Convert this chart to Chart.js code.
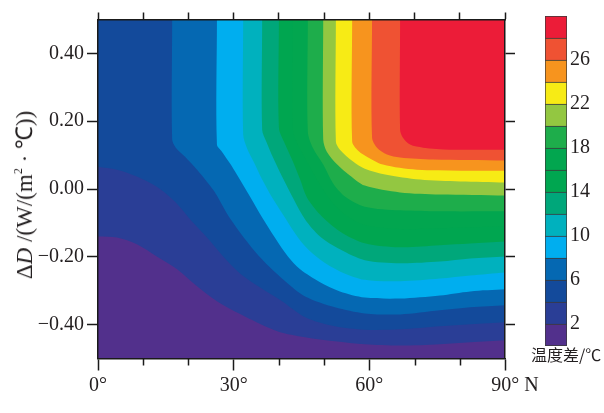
<!DOCTYPE html>
<html>
<head>
<meta charset="utf-8">
<script src="https://cdn.jsdelivr.net/npm/chart.js@4/dist/chart.umd.min.js"></script>
<style>
  html, body { margin: 0; padding: 0; background: #ffffff; }
  #wrap { position: relative; width: 604px; height: 413px; background: #ffffff; overflow: hidden; }
  canvas { position: absolute; top: 0; }
  #ytitle { position: absolute; left: 24px; top: 195px; transform: translate(-50%, -50%) rotate(-90deg);
    white-space: nowrap; font-family: "Liberation Serif", serif; font-size: 23px; color: #231f20; line-height: 1; }
  #ytitle sup { font-size: 12px; vertical-align: 10px; }
  #cbtitle { position: absolute; left: 531px; top: 346px; white-space: nowrap;
    font-family: "Noto Sans CJK SC", sans-serif; font-size: 16px; color: #231f20; line-height: 1; }
</style>
</head>
<body>
<div id="wrap">
  <canvas id="main" width="604" height="413" style="left:0"></canvas>
  <canvas id="cbar" width="94" height="413" style="left:510px"></canvas>
  <div id="ytitle">Δ<i>D</i> /(W/(m<sup>2</sup> · ℃))</div>
  <div id="cbtitle">温度差/℃</div>
</div>
<script>
// ---- data (latitude in degrees N, ΔD in W/(m²·℃)) ----
const bandEdges = [0, 2, 4, 6, 8, 10, 12, 14, 16, 18, 20, 22, 24, 26, 28, 30];
const levels = [2, 4, 6, 8, 10, 12, 14, 16, 18, 20, 22, 24, 26, 28];
const bandColors = ['#52308C', '#2A3E96', '#134A9B', '#0568B2', '#00AEEF', '#00B1BE', '#00A77A',
  '#00A650', '#02A64F', '#1EAD4B', '#93C741', '#F7EB15', '#F7941E', '#EF5233', '#EC1C38'];
const colorbarTicks = [2, 6, 10, 14, 18, 22, 26];
const xMajorTicks = [0, 30, 60, 90];
const xTickLabels = ['0°', '30°', '60°', '\u2002\u200290° N'];
const xMinorTicks = [10, 20, 40, 50, 70, 80];
const yTicks = [-0.4, -0.2, 0, 0.2, 0.4];
const xRange = [0, 90];
const yRange = [-0.5, 0.5];

// contour lines [latitude, ΔD] for each temperature-difference level
const contour2 = [[0,-0.140],[4.2,-0.143],[8.6,-0.163],[13.0,-0.199],[17.5,-0.237],[21.9,-0.287],[26.3,-0.331],[32.5,-0.376],[39.8,-0.420],[45.8,-0.437],[52.4,-0.449],[59.0,-0.458],[66.8,-0.462],[75.6,-0.458],[82.3,-0.452],[90,-0.446]];
const contour4 = [[0,0.066],[4.2,0.057],[8.6,0.037],[13.0,0.007],[17.0,-0.037],[20.8,-0.096],[24.1,-0.143],[27.9,-0.202],[31.4,-0.249],[35.8,-0.290],[40.7,-0.331],[45.8,-0.378],[52.4,-0.405],[59.0,-0.415],[66.8,-0.414],[75.6,-0.405],[82.3,-0.399],[90,-0.393]];
const contour6 = [[16.4,0.5],[16.4,0.146],[17.2,0.122],[19.2,0.096],[21.9,0.057],[25.7,-0.007],[28.5,-0.072],[31.4,-0.128],[34.7,-0.184],[38.0,-0.231],[41.4,-0.272],[45.8,-0.317],[52.4,-0.349],[59.0,-0.367],[66.8,-0.370],[75.6,-0.358],[82.3,-0.349],[90,-0.343]];
const contour8 = [[26.3,0.5],[26.3,0.131],[27.4,0.110],[29.2,0.075],[30.7,0.043],[33.6,-0.022],[36.3,-0.084],[39.1,-0.143],[42.0,-0.199],[44.7,-0.237],[49.1,-0.275],[53.5,-0.302],[59.0,-0.320],[66.8,-0.323],[75.6,-0.314],[82.3,-0.302],[90,-0.296]];
const contour10 = [[32.1,0.5],[32.1,0.161],[32.9,0.122],[34.5,0.078],[36.3,0.028],[38.5,-0.025],[40.9,-0.075],[43.3,-0.125],[45.8,-0.169],[49.1,-0.208],[53.5,-0.243],[59.0,-0.268],[66.8,-0.272],[75.6,-0.264],[82.3,-0.255],[90,-0.246]];
const contour12 = [[36.3,0.5],[36.3,0.175],[37.2,0.140],[38.7,0.093],[40.7,0.037],[43.3,-0.031],[45.8,-0.090],[49.1,-0.140],[53.5,-0.178],[59.0,-0.210],[66.8,-0.219],[75.6,-0.214],[82.3,-0.205],[90,-0.199]];
const contour14 = [[40.0,0.5],[40.0,0.181],[41.1,0.140],[42.9,0.087],[44.7,0.028],[46.2,-0.025],[49.1,-0.075],[53.5,-0.125],[59.0,-0.160],[66.8,-0.172],[75.6,-0.166],[82.3,-0.161],[90,-0.155]];
const contour16 = [[43.1,0.5],[43.1,0.175],[44.2,0.131],[46.2,0.081],[48.4,0.028],[51.3,-0.031],[54.6,-0.075],[59.0,-0.106],[66.8,-0.118],[75.6,-0.116],[90,-0.110]];
const contour18 = [[46.4,0.5],[46.4,0.169],[47.5,0.122],[49.8,0.072],[52.0,0.016],[54.6,-0.022],[59.0,-0.052],[66.8,-0.063],[75.6,-0.066],[90,-0.066]];
const contour20 = [[49.8,0.5],[49.8,0.146],[50.6,0.110],[52.9,0.072],[55.7,0.040],[59.0,0.010],[66.8,-0.010],[75.6,-0.016],[90,-0.019]];
const contour22 = [[52.6,0.5],[52.6,0.140],[53.5,0.116],[56.4,0.081],[59.0,0.060],[63.5,0.043],[71.2,0.028],[80.1,0.022],[90,0.019]];
const contour24 = [[56.2,0.5],[56.2,0.140],[57.3,0.116],[59.0,0.099],[63.0,0.072],[70.5,0.057],[90,0.054]];
const contour26 = [[60.6,0.5],[60.6,0.152],[61.7,0.122],[63.9,0.102],[66.8,0.093],[74.1,0.087],[90,0.084]];
const contour28 = [[66.8,0.5],[66.8,0.175],[67.4,0.152],[69.0,0.131],[71.9,0.122],[77.8,0.116],[90,0.116]];

const contours = [contour2, contour4, contour6, contour8, contour10, contour12, contour14,
  contour16, contour18, contour20, contour22, contour24, contour26, contour28];

// ---- build filled regions (value > level), closed through the top-right corner ----
// contour end points are repeated so the smoothing does not bulge at the frame corners
const datasets = [];
for (let i = levels.length - 1; i >= 0; i--) {
  const c = contours[i];
  const pts = [];
  if (c[0][0] === xRange[0] && c[0][1] < yRange[1]) { pts.push([xRange[0], yRange[1]]); pts.push(c[0]); }
  c.forEach(p => pts.push(p));
  pts.push(c[c.length - 1]);
  pts.push([xRange[1], yRange[1]]);
  datasets.push({
    label: '>' + levels[i], data: pts, showLine: true, fill: 'shape',
    backgroundColor: bandColors[i + 1], borderColor: 'transparent', borderWidth: 0,
    pointRadius: 0, tension: 0.3
  });
}
// lowest band covers the whole domain
datasets.push({
  label: 'base', data: [[xRange[0], yRange[0]], [xRange[0], yRange[1]], [xRange[1], yRange[1]], [xRange[1], yRange[0]]],
  showLine: true, fill: 'shape', backgroundColor: bandColors[0], borderColor: 'transparent',
  borderWidth: 0, pointRadius: 0, tension: 0
});

const TXT = '#231f20';
const FONT = { family: 'Liberation Serif', size: 20 };
const AX = '#1a1a1a';

const minorTickPlugin = {
  id: 'minorTicks',
  afterDraw(chart) {
    const s = chart.scales.x, ctx = chart.ctx;
    ctx.save();
    ctx.strokeStyle = AX; ctx.lineWidth = 1.5;
    xMinorTicks.forEach(v => {
      const px = Math.round(s.getPixelForValue(v)) + 0.5;
      ctx.beginPath(); ctx.moveTo(px, chart.chartArea.bottom); ctx.lineTo(px, chart.chartArea.bottom + 7); ctx.stroke();
    });
    ctx.restore();
  }
};

const yFmt = v => (v < -1e-9 ? '\u2212' : '') + Math.abs(v).toFixed(2);
const setYTicks = s => { s.ticks = yTicks.map(v => ({ value: v })); };

new Chart(document.getElementById('main'), {
  type: 'scatter',
  data: { datasets },
  plugins: [minorTickPlugin],
  options: {
    responsive: false, animation: false, events: [],
    layout: { padding: 0 },
    plugins: { legend: { display: false }, tooltip: { enabled: false } },
    scales: {
      x: {
        type: 'linear', position: 'bottom', min: xRange[0], max: xRange[1],
        ticks: { stepSize: 10, autoSkip: false, maxRotation: 0, color: TXT, font: FONT, padding: 3,
          callback: v => { const k = xMajorTicks.indexOf(v); return k >= 0 ? xTickLabels[k] : ''; } },
        grid: { drawOnChartArea: false, drawTicks: true, tickLength: 12, tickWidth: 1.5,
          tickColor: ctx => (xMajorTicks.includes(ctx.tick && ctx.tick.value) ? AX : 'rgba(0,0,0,0)') },
        border: { display: true, color: AX, width: 1.5, z: 1 },
        afterFit: s => { s.height = 54.5; }
      },
      xTop: {
        type: 'linear', position: 'top', min: xRange[0], max: xRange[1],
        ticks: { stepSize: 10, autoSkip: false, callback: () => '', padding: 0 },
        grid: { drawOnChartArea: false, drawTicks: true, tickLength: 7, tickWidth: 1.5, tickColor: AX },
        border: { display: true, color: AX, width: 1.5, z: 1 },
        afterFit: s => { s.height = 19.5; }
      },
      y: {
        type: 'linear', position: 'left', min: yRange[0], max: yRange[1],
        afterBuildTicks: setYTicks,
        ticks: { color: TXT, font: FONT, padding: 3, callback: yFmt },
        grid: { drawOnChartArea: false, drawTicks: true, tickLength: 11, tickWidth: 1.5, tickColor: AX },
        border: { display: true, color: AX, width: 1.5, z: 1 },
        afterFit: s => { s.width = 98; }
      },
      yRight: {
        type: 'linear', position: 'right', min: yRange[0], max: yRange[1],
        afterBuildTicks: setYTicks,
        ticks: { callback: () => '', padding: 0 },
        grid: { drawOnChartArea: false, drawTicks: true, tickLength: 10, tickWidth: 1.5, tickColor: AX },
        border: { display: true, color: AX, width: 1.5, z: 1 },
        afterFit: s => { s.width = 99; }
      }
    }
  }
});

// ---- colour bar ----
new Chart(document.getElementById('cbar'), {
  type: 'bar',
  data: {
    labels: [''],
    datasets: bandColors.map((c, i) => ({
      data: [bandEdges[i + 1] - bandEdges[i]], backgroundColor: c, borderColor: '#3a3a3a',
      borderWidth: { top: 1, left: 1, right: 1, bottom: i === 0 ? 1 : 0 }, borderSkipped: false,
      barPercentage: 1, categoryPercentage: 1
    }))
  },
  options: {
    responsive: false, animation: false, events: [],
    layout: { padding: { left: 35, top: 16, bottom: 67, right: 0 } },
    plugins: { legend: { display: false }, tooltip: { enabled: false } },
    scales: {
      x: { display: false, stacked: true },
      y: {
        stacked: true, position: 'right', min: bandEdges[0], max: bandEdges[bandEdges.length - 1],
        afterBuildTicks: s => { s.ticks = colorbarTicks.map(v => ({ value: v })); },
        ticks: { color: TXT, font: FONT, padding: 3 },
        grid: { display: false, drawTicks: false },
        border: { display: false },
        afterFit: s => { s.width = 37; }
      }
    }
  }
});
</script>
</body>
</html>
